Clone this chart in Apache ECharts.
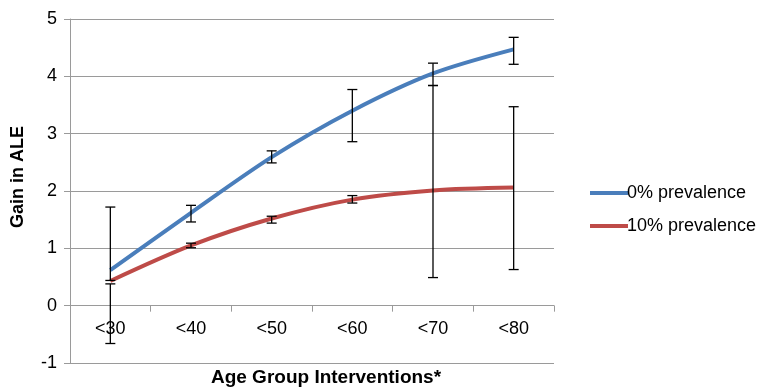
<!DOCTYPE html>
<html>
<head>
<meta charset="utf-8">
<script src="https://cdn.jsdelivr.net/npm/echarts@6/dist/echarts.min.js"></script>
<style>html,body{margin:0;padding:0;background:#fff}#c{width:767px;height:388px}</style>
</head>
<body>
<div id="c"></div>
<script>
var categories = ['<30', '<40', '<50', '<60', '<70', '<80'];
var prev0 = [0.62, 1.62, 2.59, 3.40, 4.05, 4.47];
var prev10 = [0.43, 1.05, 1.52, 1.85, 2.01, 2.06];
var prev0Err = [[0.44, 1.72], [1.46, 1.75], [2.49, 2.70], [2.86, 3.77], [3.84, 4.23], [4.21, 4.68]];
var prev10Err = [[-0.66, 0.38], [1.01, 1.09], [1.44, 1.56], [1.79, 1.92], [0.49, 3.84], [0.63, 3.47]];
var yTicks = [-1, 0, 1, 2, 3, 4, 5];

var FONT = '"Liberation Sans", Arial, sans-serif';
var chart = echarts.init(document.getElementById('c'));

function errData(arr) {
  return arr.map(function (d, i) { return [i, d[0], d[1]]; });
}
function renderErr(params, api) {
  var x = api.value(0);
  var lo = api.coord([x, api.value(1)]);
  var hi = api.coord([x, api.value(2)]);
  var hw = 5;
  var st = { stroke: '#000', lineWidth: 1.3 };
  return {
    type: 'group',
    children: [
      { type: 'line', shape: { x1: lo[0], y1: lo[1], x2: hi[0], y2: hi[1] }, style: st },
      { type: 'line', shape: { x1: lo[0] - hw, y1: lo[1], x2: lo[0] + hw, y2: lo[1] }, style: st },
      { type: 'line', shape: { x1: hi[0] - hw, y1: hi[1], x2: hi[0] + hw, y2: hi[1] }, style: st }
    ]
  };
}

chart.setOption({
  animation: false,
  grid: { left: 70, right: 213, top: 19, bottom: 25, containLabel: false, outerBoundsMode: 'none' },
  legend: {
    left: 585, top: 177, orient: 'vertical', itemGap: 11,
    icon: 'rect', itemWidth: 38, itemHeight: 4,
    textStyle: { fontFamily: FONT, fontSize: 18, color: '#000', lineHeight: 22, padding: [0, 0, 0, -6] },
    data: ['0% prevalence', '10% prevalence']
  },
  xAxis: {
    type: 'category', data: categories, boundaryGap: true,
    axisLine: { onZero: true, lineStyle: { color: '#9a9a9a', width: 1 } },
    axisTick: { show: true, length: 6, lineStyle: { color: '#9a9a9a' } },
    axisLabel: { fontFamily: FONT, fontSize: 18, color: '#000', margin: -43 },
    splitLine: { show: false }
  },
  yAxis: {
    type: 'value', min: -1, max: 5, interval: 1,
    axisLine: { show: true, lineStyle: { color: '#9a9a9a', width: 1 } },
    axisTick: { show: true, length: 6, lineStyle: { color: '#9a9a9a' } },
    axisLabel: { fontFamily: FONT, fontSize: 18, color: '#000', margin: 13,
      formatter: function (v) { return yTicks.indexOf(v) >= 0 ? String(v) : ''; } },
    splitLine: { show: true, lineStyle: { color: '#9a9a9a', width: 1 } }
  },
  graphic: [
    { type: 'text', x: 18, y: 177, rotation: Math.PI / 2,
      style: { text: 'Gain in ALE', font: 'bold 18px ' + FONT, fill: '#000', align: 'center', verticalAlign: 'middle' } },
    { type: 'text', x: 326, y: 378,
      style: { text: 'Age Group Interventions*', font: 'bold 19px ' + FONT, fill: '#000', align: 'center', verticalAlign: 'middle' } }
  ],
  series: [
    { name: '0% prevalence', type: 'line', data: prev0, smooth: 0.3, showSymbol: false,
      lineStyle: { color: '#4a7ebb', width: 4 }, itemStyle: { color: '#4a7ebb' }, z: 2 },
    { name: '10% prevalence', type: 'line', data: prev10, smooth: 0.3, showSymbol: false,
      lineStyle: { color: '#be4b48', width: 4 }, itemStyle: { color: '#be4b48' }, z: 2 },
    { type: 'custom', renderItem: renderErr, data: errData(prev0Err), encode: { x: 0, y: [1, 2] }, z: 5, silent: true },
    { type: 'custom', renderItem: renderErr, data: errData(prev10Err), encode: { x: 0, y: [1, 2] }, z: 5, silent: true }
  ]
});
</script>
</body>
</html>
